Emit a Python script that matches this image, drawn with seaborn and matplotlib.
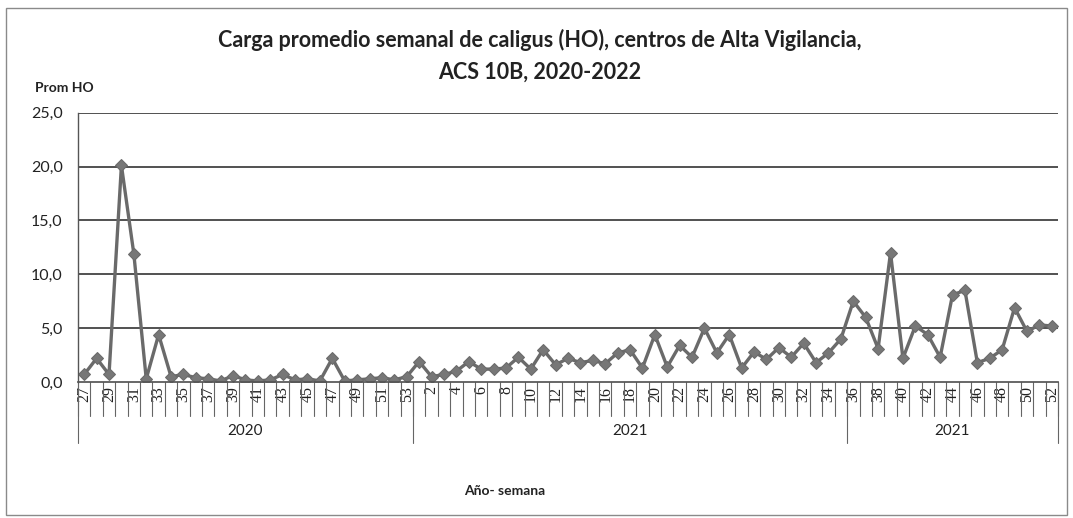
import numpy as np
import pandas as pd
import matplotlib
matplotlib.use('Agg')
import matplotlib.pyplot as plt
import matplotlib.transforms as mtransforms
from matplotlib.patches import Rectangle
import seaborn as sns

# weeks per group
weeks_2020 = list(range(27, 54))
weeks_2021a = list(range(1, 36))
weeks_2021b = list(range(36, 53))

ho_2020 = [0.7, 2.2, 0.7, 20.1, 11.9, 0.3, 4.4, 0.5, 0.7, 0.4, 0.3, 0.1, 0.6, 0.2,
           0.1, 0.2, 0.7, 0.2, 0.3, 0.1, 2.2, 0.1, 0.2, 0.3, 0.4, 0.2, 0.5]
ho_2021a = [1.9, 0.5, 0.7, 1.0, 1.9, 1.2, 1.2, 1.3, 2.3, 1.2, 3.0, 1.6, 2.2, 1.8,
            2.0, 1.7, 2.7, 3.0, 1.3, 4.4, 1.4, 3.4, 2.3, 5.0, 2.7, 4.4, 1.3, 2.8,
            2.1, 3.2, 2.3, 3.6, 1.8, 2.7, 4.0]
ho_2021b = [7.5, 6.0, 3.1, 12.0, 2.2, 5.2, 4.4, 2.3, 8.1, 8.5, 1.8, 2.2, 3.0,
            6.9, 4.7, 5.3, 5.2]
group_labels = ['2020', '2021', '2021']

weeks = weeks_2020 + weeks_2021a + weeks_2021b
ho = ho_2020 + ho_2021a + ho_2021b
df = pd.DataFrame({'idx': np.arange(len(weeks)), 'semana': weeks, 'ho': ho})

sns.set_theme(style='white')
plt.rcParams['font.family'] = ['Lato', 'DejaVu Sans']

fig = plt.figure(figsize=(10.73, 5.18), dpi=100)
ax = fig.add_axes([0.0727, 0.2625, 0.9133, 0.52])

# outer chart border
fig.patches.append(Rectangle((0.006, 0.006), 0.988, 0.978, transform=fig.transFigure,
                             fill=False, edgecolor='#8a8a8a', linewidth=1.0))

for v in [5, 10, 15, 20, 25]:
    ax.axhline(v, color='#333333', linewidth=1.2, zorder=0)

sns.lineplot(data=df, x='idx', y='ho', ax=ax, color='#6a6a6a', linewidth=2.4,
             marker='D', markersize=6.5, markeredgecolor='#6a6a6a', markerfacecolor='#777777')

ax.set_xlim(-0.5, len(weeks) - 0.5)
ax.set_ylim(0, 25)
ax.set_yticks([0, 5, 10, 15, 20, 25])
ax.set_yticklabels([f'{v:.1f}'.replace('.', ',') for v in [0, 5, 10, 15, 20, 25]],
                   fontsize=11.5, color='#222222')
ax.tick_params(axis='y', length=0, pad=11)
for s in ['top', 'right']:
    ax.spines[s].set_visible(False)
ax.spines['left'].set_color('#555555')
ax.spines['bottom'].set_color('#555555')
ax.spines['left'].set_linewidth(1.0)

# category ticks: label every other week
ax.set_xticks(df['idx'][::2])
ax.set_xticklabels([str(w) for w in df['semana'][::2]], rotation=90,
                   family='Liberation Serif', fontsize=11.5, color='#222222')
ax.tick_params(axis='x', length=0, pad=3)
ax.set_xlabel('')
ax.set_ylabel('')

trans = mtransforms.blended_transform_factory(ax.transData, ax.transAxes)
# boundaries between categories
for b in np.arange(-0.5, len(weeks), 1.0):
    ax.plot([b, b], [0, -0.125], transform=trans, color='#666666', linewidth=0.8, clip_on=False)
# group separators and labels
n1, n2 = len(weeks_2020), len(weeks_2020) + len(weeks_2021a)
bounds = [-0.5, n1 - 0.5, n2 - 0.5, len(weeks) - 0.5]
for b in bounds:
    ax.plot([b, b], [0, -0.225], transform=trans, color='#666666', linewidth=0.8, clip_on=False)
for lbl, a, b in zip(group_labels, bounds[:-1], bounds[1:]):
    ax.text((a + b) / 2, -0.18, lbl, transform=trans, ha='center', va='center',
            fontsize=11, color='#222222')

fig.text(0.503, 0.922, 'Carga promedio semanal de caligus (HO), centros de Alta Vigilancia,',
         ha='center', va='center', fontsize=15.5, fontweight='bold', color='#222222')
fig.text(0.503, 0.86, 'ACS 10B, 2020-2022', ha='center', va='center',
         fontsize=15.5, fontweight='bold', color='#222222')
fig.text(0.033, 0.83, 'Prom HO', ha='left', va='center', fontsize=10,
         fontweight='bold', color='#222222')
fig.text(0.47, 0.053, 'Año- semana', ha='center', va='center', fontsize=10,
         fontweight='bold', color='#222222')

fig.savefig('out.png', dpi=100)
